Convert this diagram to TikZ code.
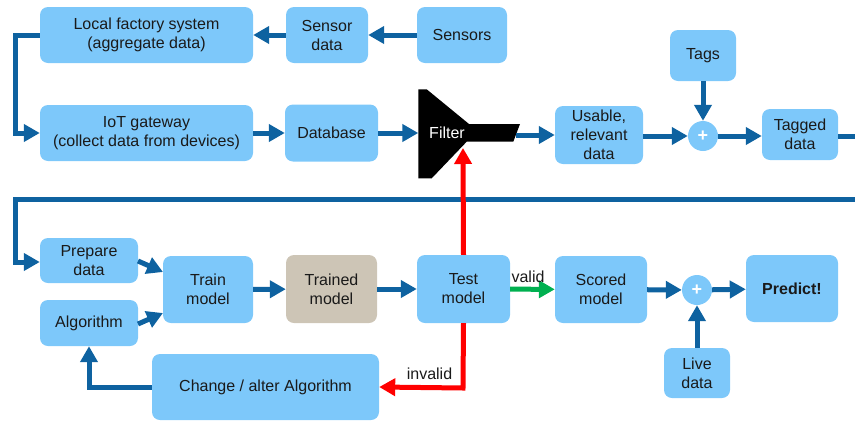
\documentclass[tikz,border=0pt]{standalone}
\usepackage{fontspec}
\setmainfont{Liberation Sans}
\usetikzlibrary{arrows.meta}
\definecolor{boxblue}{HTML}{7DC8FA}
\definecolor{arrblue}{HTML}{0E62A0}
\definecolor{tanbox}{HTML}{CDC5B6}
\definecolor{myred}{HTML}{FF0000}
\definecolor{mygreen}{HTML}{00B050}
\definecolor{txt}{HTML}{1A1A1A}
\begin{document}
\begin{tikzpicture}[x=1pt,y=-1pt,
  blk/.style={fill=boxblue, rounded corners=8pt, align=center, inner sep=0pt,
    text=txt, font=\fontsize{16}{19}\selectfont},
  plusnode/.style={circle, fill=boxblue, minimum size=30pt, inner sep=0pt,
    text=white, font=\fontsize{18}{18}\selectfont\bfseries},
  conn/.style={draw=arrblue, line width=5pt, -{Triangle[length=16pt,width=17pt]}},
  redconn/.style={draw=myred, line width=5pt, -{Triangle[length=16pt,width=17pt]}},
  greenconn/.style={draw=mygreen, line width=5pt, -{Triangle[length=16pt,width=17pt]}},
  lbl/.style={text=txt, font=\fontsize{16}{19}\selectfont}
]
\useasboundingbox (0,0) rectangle (855,421);
\clip (0,0) rectangle (855,421);

% top row
\node[blk, minimum width=213pt, minimum height=56pt] (lfs) at (146.5,35) {Local factory system\\(aggregate data)};
\node[blk, minimum width=82pt, minimum height=56pt] (sd) at (327,35) {Sensor\\data};
\node[blk, minimum width=90pt, minimum height=56pt] (sen) at (462,35) {Sensors};
\node[blk, minimum width=213pt, minimum height=56pt] (iot) at (146.5,133) {IoT gateway\\(collect data from devices)};
\node[blk, minimum width=93pt, minimum height=57pt] (db) at (331.5,133) {Database};

% filter shape
\fill (418.3,89.3) -- (426.7,89.3) -- (469,124) -- (520,124) -- (513.3,141.7) -- (466.7,141.7) -- (431.7,178.3) -- (418.3,178.3) -- cycle;
\node[text=white, font=\fontsize{16}{19}\selectfont] (filt) at (447,133) {Filter};
\coordinate (filtin) at (418.3,133);
\coordinate (filtout) at (516,135);
\coordinate (filtbot) at (463,148);

\node[blk, minimum width=88pt, minimum height=58pt] (use) at (599,135) {Usable,\\relevant\\data};
\node[plusnode] (p1) at (703,136) {+};
\node[blk, minimum width=66pt, minimum height=51pt] (tags) at (703,55.5) {Tags};
\node[blk, minimum width=76pt, minimum height=51pt] (tagged) at (800,134.5) {Tagged\\data};

% bottom row
\node[blk, minimum width=98pt, minimum height=45pt] (prep) at (89,260.5) {Prepare\\data};
\node[blk, minimum width=98pt, minimum height=46pt] (alg) at (89,323) {Algorithm};
\node[blk, minimum width=90pt, minimum height=67pt] (train) at (208,289.5) {Train\\model};
\node[blk, fill=tanbox, minimum width=91pt, minimum height=68pt] (trained) at (331.5,289) {Trained\\model};
\node[blk, minimum width=93pt, minimum height=68pt] (test) at (463.5,289) {Test\\model};
\node[blk, minimum width=92pt, minimum height=67pt] (scored) at (601,289.5) {Scored\\model};
\node[plusnode] (p2) at (697,290) {+};
\node[blk, minimum width=92pt, minimum height=67pt, font=\fontsize{16}{19}\selectfont\bfseries] (pred) at (792,288.5) {Predict!};
\node[blk, minimum width=66pt, minimum height=50pt] (live) at (697,373) {Live\\data};
\node[blk, minimum width=227pt, minimum height=66pt] (chg) at (265.5,387) {Change / alter Algorithm};

% connectors top
\draw[conn] (sen) -- (sd);
\draw[conn] (sd) -- (lfs);
\draw[conn] (lfs.west) -- (15,35) -- (15,133) -- (iot.west);
\draw[conn] (iot) -- (db);
\draw[conn] (db) -- (filtin);
\draw[conn] (filtout) -- (use.west |- filtout);
\draw[conn] (use.east |- p1) -- (p1);
\draw[conn] (tags) -- (p1);
\draw[conn] (p1) -- (tagged.west |- p1);
\draw[conn] (tagged.east |- 0,136) -- (880,136) -- (880,199) -- (15,199) -- (15,262) -- (prep.west |- 0,262);

% connectors bottom
\draw[conn] (138,261) -- (163,272);
\draw[conn] (138,324) -- (163,313);
\draw[conn] (train) -- (trained);
\draw[conn] (trained) -- (test);
\draw[greenconn] (test) -- (scored) node[pos=0.4, above=1pt, lbl] {valid};
\draw[conn] (scored) -- (p2);
\draw[conn] (p2) -- (pred);
\draw[conn] (live) -- (p2);
\draw[conn] (chg.west) -- (89,387) -- (alg.south);
\draw[redconn] (test.south) -- (463,388) -- (chg.east) node[pos=0.4, above=2pt, lbl] {invalid};
\draw[redconn] (test.north) -- (filtbot);
\end{tikzpicture}
\end{document}
